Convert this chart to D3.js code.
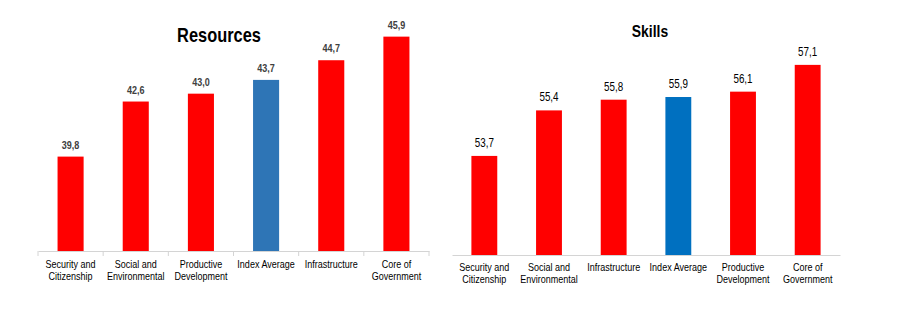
<!DOCTYPE html>
<html>
<head>
<meta charset="utf-8">
<script src="https://cdn.jsdelivr.net/npm/d3@7"></script>
<style>
    body { margin: 0; background: #fff; }
    svg { display: block; font-family: "Liberation Sans Narrow", "Arial Narrow", "Liberation Sans", Arial, sans-serif; }
</style>
</head>
<body>
<div id="chart"></div>
<script>
// Resources panel
const resCategories = ["Security and|Citizenship", "Social and|Environmental", "Productive|Development", "Index Average", "Infrastructure", "Core of|Government"];
const resValues = [39.8, 42.6, 43.0, 43.7, 44.7, 45.9];
// Skills panel
const skillCategories = ["Security and|Citizenship", "Social and|Environmental", "Infrastructure", "Index Average", "Productive|Development", "Core of|Government"];
const skillValues = [53.7, 55.4, 55.8, 55.9, 56.1, 57.1];

// no narrow font installed, so squeeze the text horizontally
const SQUEEZE = 0.82;

const svg = d3.select("#chart").append("svg")
    .attr("width", 902)
    .attr("height", 320);

const fmt = v => d3.format(".1f")(v).replace(".", ",");

function drawPanel(opts) {
    const { title, categories, values, x0, x1, base, top, domain, avgColor,
            titleX, titleY, titleSize, valueSize, valueWeight, valueColor, valueGap,
            labelY, labelColor, boundaryTicks } = opts;

    const g = svg.append("g");

    const xScale = d3.scaleBand()
        .domain(categories)
        .range([x0, x1])
        .paddingInner(0.6)
        .paddingOuter(0.3);

    const yScale = d3.scaleLinear()
        .domain(domain)
        .range([base, top]);

    const data = categories.map((c, i) => ({ cat: c, value: values[i] }));
    const cx = d => xScale(d.cat) + xScale.bandwidth() / 2;

    // bars
    g.selectAll(".bar")
        .data(data)
        .enter()
        .append("rect")
        .attr("x", d => xScale(d.cat))
        .attr("y", d => yScale(d.value))
        .attr("width", xScale.bandwidth())
        .attr("height", d => base - yScale(d.value))
        .attr("fill", d => d.cat === "Index Average" ? avgColor : "#ff0000");

    // value labels
    g.selectAll(".val")
        .data(data)
        .enter()
        .append("text")
        .attr("transform", d => `translate(${cx(d)},${yScale(d.value) - valueGap}) scale(${SQUEEZE},1)`)
        .attr("text-anchor", "middle")
        .style("font-size", valueSize + "px")
        .style("font-weight", valueWeight)
        .style("fill", valueColor)
        .text(d => fmt(d.value));

    // x axis
    const axis = g.append("g")
        .attr("transform", `translate(0,${base})`)
        .call(d3.axisBottom(xScale).tickSize(0).tickSizeOuter(0));
    axis.select(".domain").attr("stroke", "#d4d4d4");
    axis.selectAll(".tick text").remove();

    if (boundaryTicks) {
        const step = xScale.step();
        const bounds = d3.range(categories.length + 1).map(i => x0 + i * step);
        axis.selectAll(".bound")
            .data(bounds)
            .enter()
            .append("line")
            .attr("x1", d => d)
            .attr("x2", d => d)
            .attr("y1", 0)
            .attr("y2", 5)
            .attr("stroke", "#d4d4d4");
    }

    // category labels, split in two lines
    const labels = g.selectAll(".cat")
        .data(data)
        .enter()
        .append("text")
        .attr("transform", d => `translate(${cx(d)},${labelY}) scale(${SQUEEZE},1)`)
        .attr("text-anchor", "middle")
        .style("font-size", "11px")
        .style("fill", labelColor);
    labels.each(function(d) {
        const t = d3.select(this);
        d.cat.split("|").forEach((p, i) => {
            t.append("tspan")
                .attr("x", 0)
                .attr("dy", i === 0 ? 0 : 12)
                .text(p);
        });
    });

    // title
    g.append("text")
        .attr("transform", `translate(${titleX},${titleY}) scale(${SQUEEZE},1)`)
        .attr("text-anchor", "middle")
        .style("font-size", titleSize + "px")
        .style("font-weight", "bold")
        .style("fill", "#000")
        .text(title);
}

drawPanel({
    title: "Resources", categories: resCategories, values: resValues,
    x0: 38, x1: 429, base: 251, top: 15, domain: [35, 47], avgColor: "#2e75b6",
    titleX: 219, titleY: 42, titleSize: 20,
    valueSize: 11, valueWeight: "bold", valueColor: "#404040", valueGap: 8,
    labelY: 268, labelColor: "#000", boundaryTicks: true
});

drawPanel({
    title: "Skills", categories: skillCategories, values: skillValues,
    x0: 452, x1: 840, base: 255, top: 14, domain: [50, 59], avgColor: "#0070c0",
    titleX: 650, titleY: 37, titleSize: 17,
    valueSize: 12, valueWeight: "normal", valueColor: "#000", valueGap: 9,
    labelY: 271, labelColor: "#000", boundaryTicks: false
});
</script>
</body>
</html>
